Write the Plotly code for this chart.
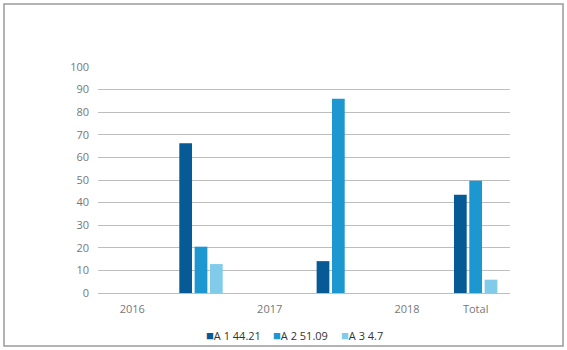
import plotly.graph_objects as go

categories = ["2016", "2016b", "2017", "2017b", "2018", "Total"]
tick_labels = ["2016", "", "2017", "", "2018", "Total"]
series_names = ["A 1 44.21", "A 2 51.09", "A 3 4.7"]
a1_values = [None, 66.3, None, 14.1, None, 43.5]
a2_values = [None, 20.5, None, 86.0, None, 49.7]
a3_values = [None, 12.8, None, None, None, 5.9]
y_ticks = [0, 10, 20, 30, 40, 50, 60, 70, 80, 90, 100]

colors = ["#065a96", "#1d97cf", "#80cbea"]

fig = go.Figure()
for name, vals, col in zip(series_names, [a1_values, a2_values, a3_values], colors):
    fig.add_trace(go.Bar(x=categories, y=vals, name=name, showlegend=False,
                         marker=dict(color=col, line=dict(width=0))))

W, H = 567, 350
ml, mr, mt, mb = 98, 57, 67, 57
pw, ph = W - ml - mr, H - mt - mb

def px_to_paper_x(px):
    return (px - ml) / pw

def px_to_paper_y(py):
    return (H - mb - py) / ph

fig.add_shape(type="rect", xref="paper", yref="paper",
              x0=px_to_paper_x(4), x1=px_to_paper_x(563),
              y0=px_to_paper_y(346), y1=px_to_paper_y(4),
              line=dict(color="#9a9a9a", width=1.5), fillcolor="rgba(0,0,0,0)", layer="below")

# legend drawn as text entries (square glyph + series name)
legend_left_px = [204, 271, 339]
for name, col, lx in zip(series_names, colors, legend_left_px):
    fig.add_annotation(xref="paper", yref="paper", x=px_to_paper_x(lx), y=px_to_paper_y(335),
                       xanchor="left", yanchor="middle", showarrow=False,
                       text=f"<span style='color:{col};font-size:13px'>■</span>{name}",
                       font=dict(family="Open Sans", size=11, color="#333333"))

fig.update_layout(
    width=W, height=H,
    margin=dict(l=ml, r=mr, t=mt, b=mb),
    paper_bgcolor="white", plot_bgcolor="white",
    barmode="group", bargap=0.33, bargroupgap=0.17,
    font=dict(family="Open Sans", color="#777777", size=11),
    showlegend=False,
)
fig.update_xaxes(type="category", categoryorder="array", categoryarray=categories,
                 tickvals=categories, ticktext=tick_labels, showgrid=False, automargin=False,
                 showline=False, ticks="", ticklabelstandoff=8, tickfont=dict(color="#777777", size=11))
fig.update_yaxes(range=[0, 100], tickvals=y_ticks, showgrid=True, gridcolor="#bdbdbd", gridwidth=1,
                 zeroline=True, zerolinecolor="#bdbdbd", zerolinewidth=1, showline=False, ticks="",
                 automargin=False, ticklabelstandoff=8, tickfont=dict(color="#777777", size=11))

fig.write_html("out.html", config={"displayModeBar": False},
               post_script="document.body.style.margin='0px';")
